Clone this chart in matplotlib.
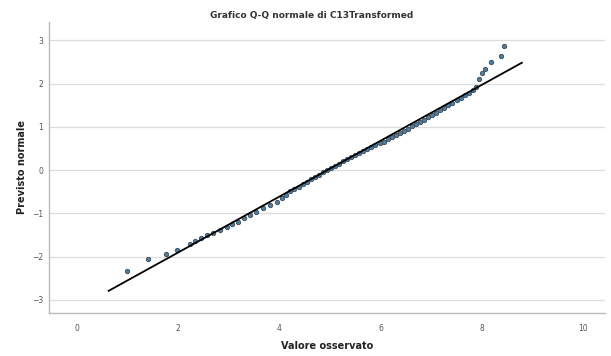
import matplotlib
matplotlib.use("Agg")
import matplotlib.pyplot as plt

osservato = [1.00, 1.41, 1.76, 1.98,
             2.23, 2.34, 2.46, 2.57, 2.69, 2.82, 2.96, 3.07, 3.18, 3.30,
             3.42, 3.55, 3.68, 3.81, 3.95, 4.05, 4.14,
             4.22, 4.30, 4.38, 4.46, 4.54, 4.62, 4.70, 4.78, 4.86, 4.94,
             5.02, 5.10, 5.18, 5.26, 5.34, 5.42, 5.50, 5.58, 5.66, 5.74,
             5.82, 5.90, 5.98, 6.06, 6.14, 6.22, 6.30, 6.38, 6.46, 6.54,
             6.62, 6.70, 6.78, 6.86, 6.94, 7.02, 7.10, 7.18, 7.26, 7.34,
             7.42, 7.50, 7.58, 7.66, 7.74, 7.82, 7.88,
             7.95, 8.00, 8.06, 8.18, 8.37, 8.44]
previsto = [-2.33, -2.06, -1.94, -1.85,
            -1.71, -1.64, -1.58, -1.51, -1.45, -1.38, -1.31, -1.25, -1.19, -1.11,
            -1.04, -0.96, -0.88, -0.80, -0.73, -0.65, -0.58,
            -0.49, -0.43, -0.38, -0.32, -0.27, -0.21, -0.16, -0.11, -0.05, 0.00,
            0.05, 0.10, 0.15, 0.20, 0.25, 0.30, 0.34, 0.39, 0.44, 0.48,
            0.53, 0.57, 0.62, 0.66, 0.71, 0.76, 0.81, 0.86, 0.91, 0.96,
            1.01, 1.06, 1.11, 1.16, 1.22, 1.27, 1.33, 1.38, 1.44, 1.50,
            1.55, 1.61, 1.67, 1.73, 1.79, 1.86, 1.93,
            2.10, 2.24, 2.33, 2.49, 2.64, 2.87]

# retta di riferimento (estremi)
retta_x = [0.63, 8.79]
retta_y = [-2.79, 2.48]

x_ticks = [0, 2, 4, 6, 8, 10]
y_ticks = [-3, -2, -1, 0, 1, 2, 3]

fig = plt.figure(figsize=(6.11, 3.56), dpi=100)
ax = fig.add_axes([0.080, 0.121, 0.910, 0.817])

ax.scatter(osservato, previsto, s=10, facecolor="#4a7fa8", edgecolor="#404850",
           linewidth=0.6, zorder=3)
ax.plot(retta_x, retta_y, color="black", linewidth=1.3, zorder=4)

ax.set_xlim(-0.55, 10.43)
ax.set_ylim(-3.3, 3.42)
ax.set_xticks(x_ticks)
ax.set_yticks(y_ticks)
ax.tick_params(labelsize=5.5, colors="#555555", length=0)
ax.tick_params(axis="x", pad=8)
ax.tick_params(axis="y", pad=4)
ax.grid(axis="y", color="#dddddd", linewidth=0.9)
ax.set_axisbelow(True)

for s in ["top", "right"]:
    ax.spines[s].set_visible(False)
for s in ["left", "bottom"]:
    ax.spines[s].set_color("#bbbbbb")
    ax.spines[s].set_linewidth(1.0)

ax.set_xlabel("Valore osservato", fontsize=7, fontweight="bold", color="#222222", labelpad=6)
ax.set_ylabel("Previsto normale", fontsize=7, fontweight="bold", color="#222222", labelpad=4)
fig.suptitle("Grafico Q-Q normale di C13Transformed", fontsize=6.5, fontweight="bold",
             color="#333333", x=0.51, y=0.97)

fig.savefig("out.png", dpi=100)
